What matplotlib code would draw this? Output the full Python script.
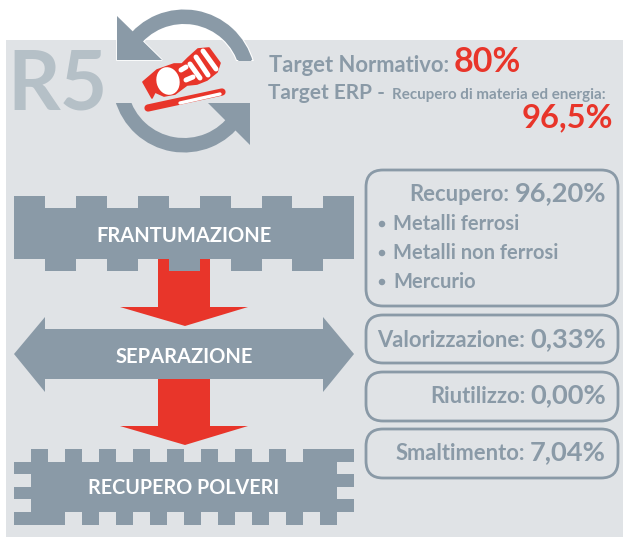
import numpy as np
import matplotlib
matplotlib.use('Agg')
import matplotlib.pyplot as plt
from matplotlib.patches import Polygon, Rectangle, FancyBboxPatch, Wedge, Ellipse

plt.rcParams['font.family'] = ['Lato', 'DejaVu Sans']

# Testi e valori
STEP_LABELS = ['FRANTUMAZIONE', 'SEPARAZIONE', 'RECUPERO POLVERI']
RECUPERO_ITEMS = ['Metalli ferrosi', 'Metalli non ferrosi', 'Mercurio']
FLOW_LABELS = ['Recupero:', 'Valorizzazione:', 'Riutilizzo:', 'Smaltimento:']
FLOW_VALUES = ['96,20%', '0,33%', '0,00%', '7,04%']
TARGET_NORM = '80%'
TARGET_ERP = '96,5%'

GRIGIO = '#8a9aa7'
SFONDO = '#e0e3e6'
ROSSO = '#e8352a'
R5_COL = '#b5c0c7'

fig = plt.figure(figsize=(6.23, 5.37), dpi=100)
ax = fig.add_axes([0, 0, 1, 1])
ax.set_xlim(0, 623)
ax.set_ylim(537, 0)
ax.axis('off')


def poligono(punti, colore, z=3, **kw):
    p = Polygon(punti, closed=True, fc=colore, ec='none', zorder=z, **kw)
    ax.add_patch(p)
    return p


def testo_a_destra(x, y, etichetta, valore, fs_e, fs_v, col_v=GRIGIO, gap=5):
    """Scrive etichetta + valore allineati a destra sulla stessa baseline."""
    t = ax.text(x, y, valore, ha='right', va='baseline', fontsize=fs_v, fontweight='bold', color=col_v, zorder=6)
    bb = t.get_window_extent(fig.canvas.get_renderer())
    ax.text(x - bb.width - gap, y, etichetta, ha='right', va='baseline', fontsize=fs_e, fontweight='bold', color=GRIGIO, zorder=6)


def capsula(p0, p1, lw=3.6, colore='white', z=5):
    ax.add_line(plt.Line2D([p0[0], p1[0]], [p0[1], p1[1]], color=colore, lw=lw, solid_capstyle='round', zorder=z))


# Sfondo
ax.add_patch(Rectangle((6, 40), 617, 497, fc=SFONDO, ec='none', zorder=0))
ax.text(7, 109, 'R5', fontsize=59, fontweight='bold', color=R5_COL, va='baseline', zorder=1)

# Frecce circolari
cx, cy = 184, 81
clip_su = Rectangle((100, 0), 170, 59.5, transform=ax.transData)
clip_giu = Rectangle((100, 103), 170, 60, transform=ax.transData)
alone = Wedge((cx, cy), 71.5, 215, 345, width=14.5, fc=GRIGIO, ec='white', lw=1.6, zorder=2)
ax.add_patch(alone)
alone.set_clip_path(Rectangle((100, 0), 170, 60.5, transform=ax.transData))
poligono([(117, 16), (117, 59.5), (162, 59.5)], GRIGIO, z=2).set(ec='white', lw=1.2)
arco = Wedge((cx, cy), 71.5, 215, 345, width=14.5, fc=GRIGIO, ec='none', zorder=2.5)
ax.add_patch(arco)
arco.set_clip_path(clip_su)
poligono([(117, 16), (117, 59.5), (162, 59.5)], GRIGIO, z=2.5)
arco2 = Wedge((cx, cy), 71.5, 35, 165, width=14.5, fc=GRIGIO, ec='none', zorder=2)
ax.add_patch(arco2)
arco2.set_clip_path(clip_giu)
poligono([(250, 103), (250, 145), (208, 103)], GRIGIO, z=2)

# Lampadina
poligono([(143, 82), (157, 70), (174, 64), (182, 64), (188, 58), (198, 49), (209, 48), (220, 63), (217, 72),
          (207, 80), (197, 84), (187, 85), (175, 94), (164, 96), (155, 92), (152, 98)], ROSSO, z=4).set(ec=ROSSO, lw=1.2, joinstyle='round')
ax.add_patch(Ellipse((168, 81), 23, 28, angle=-15, fc='white', ec='none', zorder=5))
capsula((181, 70), (186, 67))
capsula((186, 80), (193, 77))
capsula((190, 64), (200, 78))
capsula((196, 57), (208, 75))
capsula((203, 51), (216, 69))
capsula((148, 108), (222, 92), lw=5.2, colore=ROSSO, z=4)
capsula((180, 103), (220, 94), lw=2.4)

# FRANTUMAZIONE
x_top = [14, 45, 76, 107, 138, 169, 200, 231, 262, 292, 323, 354]
punti = [(14, 196)]
for i, x in enumerate(x_top[1:], 1):
    y_a, y_b = (196, 208) if i % 2 else (208, 196)
    punti += [(x, y_a), (x, y_b)]
punti += [(354, 196), (354, 259)]
for i, x in enumerate(x_top[-2:0:-1]):
    y_a, y_b = (259, 271) if i % 2 == 0 else (271, 259)
    punti += [(x, y_a), (x, y_b)]
punti += [(14, 259)]
poligono(punti, GRIGIO)

# Frecce rosse
for y0, y1, y2 in [(255, 307, 326), (375, 426, 445)]:
    poligono([(158, y0), (210, y0), (210, y1), (248, y1), (185, y2), (120, y1), (158, y1)], ROSSO, z=2)

# SEPARAZIONE
poligono([(14, 354), (45, 317), (45, 329), (323, 329), (323, 317), (354, 354), (323, 392), (323, 379),
          (45, 379), (45, 392)], GRIGIO)

# RECUPERO POLVERI
punti = [(14, 462), (31, 462), (31, 449)]
for x in [48, 65, 82, 99, 116, 133, 150, 167, 184, 201, 218, 235, 252, 269, 286, 303]:
    y_ora = punti[-1][1]
    punti += [(x, y_ora), (x, 462 if y_ora == 449 else 449)]
punti += [(354, 449), (354, 462), (337, 462), (337, 474), (354, 474), (354, 487), (337, 487), (337, 499),
          (354, 499), (354, 512), (337, 512), (337, 525)]
for x in [320, 303, 286, 269, 252, 235, 218, 201, 184, 167, 150, 133, 116, 99, 82, 65]:
    y_ora = punti[-1][1]
    punti += [(x, y_ora), (x, 512 if y_ora == 525 else 525)]
punti += [(14, 525), (14, 512), (31, 512), (31, 499), (14, 499), (14, 487), (31, 487), (31, 474), (14, 474)]
poligono(punti, GRIGIO)

for lab, y, fs in zip(STEP_LABELS, [242, 363, 494], [14.5, 14.5, 14.2]):
    ax.text(184, y, lab, ha='center', va='baseline', fontsize=fs, fontweight='bold', color='white', zorder=6)

# Riquadri a destra
for y0, y1 in [(170, 306), (315, 363), (372, 421), (429, 478)]:
    r = 17
    ax.add_patch(FancyBboxPatch((366 + r, y0 + r), 252 - 2 * r, y1 - y0 - 2 * r, boxstyle=f'round,pad={r},rounding_size={r}',
                                fc='none', ec=GRIGIO, lw=2, zorder=5))

for lab, val, y in zip(FLOW_LABELS, FLOW_VALUES, [201, 347, 403, 460]):
    testo_a_destra(606, y, lab, val, 15.8, 19.6)

for lab, y in zip(RECUPERO_ITEMS, [230, 259, 288]):
    ax.add_patch(Ellipse((382, y - 6), 6.5, 6.5, fc=GRIGIO, ec='none', zorder=6))
    ax.text(393, y, lab, fontsize=14.5, fontweight='bold', color=GRIGIO, va='baseline', zorder=6)

# Target
testo_a_destra(521, 72, 'Target Normativo:', TARGET_NORM, 15.8, 24.5, col_v=ROSSO)
ax.text(268, 99, 'Target ERP -', fontsize=15, fontweight='bold', color=GRIGIO, va='baseline', zorder=6)
ax.text(392, 99, 'Recupero di materia ed energia:', fontsize=10.9, fontweight='bold', color=GRIGIO, va='baseline', zorder=6)
ax.text(613, 127, TARGET_ERP, ha='right', fontsize=23.6, fontweight='bold', color=ROSSO, va='baseline', zorder=6)

fig.savefig('out.png', dpi=100)
